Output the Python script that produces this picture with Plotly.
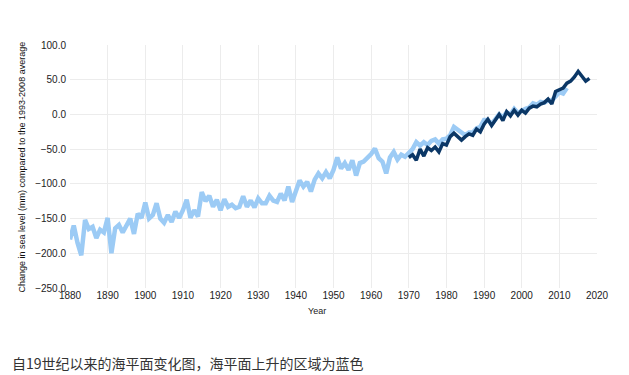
import plotly.graph_objects as go

# Reconstructed (long-term) sea level, mm vs 1993-2008 average
recon_years = list(range(1880, 2013))
recon_mm = [
    -180, -160, -185, -203, -152, -165, -162, -178, -166, -170,  # 1880-1889
    -149, -200, -164, -159, -170, -160, -150, -172, -143, -149,  # 1890-1899
    -127, -150, -145, -128, -150, -156, -145, -155, -140, -149,  # 1900-1909
    -138, -123, -149, -138, -147, -112, -125, -117, -133, -123,  # 1910-1919
    -138, -122, -133, -130, -135, -133, -118, -133, -124, -134,  # 1920-1929
    -121, -128, -128, -117, -124, -126, -114, -124, -104, -126,  # 1930-1939
    -112, -95, -104, -97, -111, -94, -85, -92, -83, -92,         # 1940-1949
    -80, -62, -78, -70, -80, -66, -88, -70, -68, -63,            # 1950-1959
    -57, -49, -63, -68, -85, -62, -54, -65, -58, -61,            # 1960-1969
    -55, -50, -40, -45, -40, -44, -38, -36, -42, -36,            # 1970-1979
    -35, -30, -18, -22, -28, -30, -26, -26, -20, -18,            # 1980-1989
    -8, -8, -14, -6, 0, -4, 3, 0, 8, 2,                          # 1990-1999
    6, 8, 10, 16, 14, 18, 17, 20, 20, 26,                        # 2000-2009
    32, 30, 38,                                                  # 2010-2012
]

# Tide gauge / satellite record, mm
gauge_years = list(range(1970, 2019))
gauge_mm = [
    -62, -58, -66, -50, -60, -48, -52, -47, -54, -42,            # 1970-1979
    -44, -32, -27, -32, -37, -32, -28, -30, -21, -25,            # 1980-1989
    -14, -7, -16, -8, 0, -9, 4, -2, 6, -1,                       # 1990-1999
    6, 2, 9, 12, 11, 15, 17, 22, 15, 33,                         # 2000-2009
    36, 38, 45, 48, 54, 62, 55, 48, 52,                          # 2010-2018
]

x_ticks = list(range(1880, 2021, 10))
y_ticks = [100, 50, 0, -50, -100, -150, -200, -250]

fig = go.Figure()
fig.add_trace(go.Scatter(
    x=recon_years, y=recon_mm, mode="lines",
    line=dict(color="#9ccbf5", width=4.5), hoverinfo="skip", showlegend=False,
))
fig.add_trace(go.Scatter(
    x=gauge_years, y=gauge_mm, mode="lines",
    line=dict(color="#0b3766", width=3.5), hoverinfo="skip", showlegend=False,
))

font_family = "Liberation Sans, Arial, sans-serif"
fig.update_layout(
    width=613, height=367,
    margin=dict(l=62, r=24, t=37, b=87),
    paper_bgcolor="white", plot_bgcolor="white",
    font=dict(family=font_family, size=10, color="#333333"),
    xaxis=dict(
        range=[1880, 2020], tickvals=x_ticks, ticktext=[str(v) for v in x_ticks],
        showgrid=True, gridcolor="#ececec", gridwidth=1, zeroline=False,
        showline=False, ticks="", automargin=False,
        tickfont=dict(size=10, color="#222222"),
    ),
    yaxis=dict(
        range=[-250, 100], tickvals=y_ticks, tickformat=".1f",
        showgrid=True, gridcolor="#ececec", gridwidth=1, zeroline=False,
        showline=False, ticks="", automargin=False, ticklabelstandoff=3,
        tickfont=dict(size=10, color="#222222"),
    ),
)
fig.add_annotation(
    text="Year", xref="paper", yref="paper", x=0.469, y=-0.095,
    xanchor="center", yanchor="middle", showarrow=False,
    font=dict(family=font_family, size=9, color="#222222"),
)
fig.add_annotation(
    text="Change in sea level (mm) compared to the 1993-2008 average",
    xref="paper", yref="paper", x=-0.0911, y=0.5, textangle=-90,
    xanchor="center", yanchor="middle", showarrow=False,
    font=dict(family=font_family, size=9, color="#111111"),
)
fig.add_annotation(
    text="自19世纪以来的海平面变化图，海平面上升的区域为蓝色",
    xref="paper", yref="paper", x=-0.114, y=-0.309, xanchor="left", yanchor="middle",
    showarrow=False,
    font=dict(family="Noto Sans CJK SC, sans-serif", size=14, color="#333333"),
)
fig.write_html("out.html")
